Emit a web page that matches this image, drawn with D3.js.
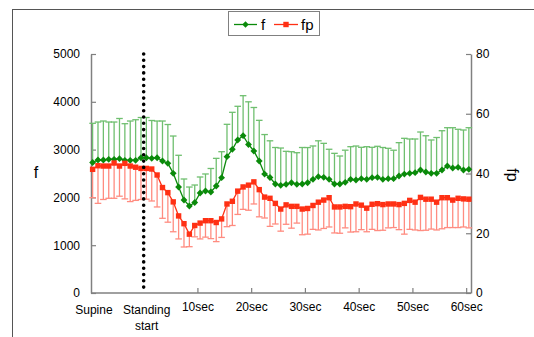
<!DOCTYPE html>
<html><head><meta charset="utf-8">
<script src="https://cdn.jsdelivr.net/npm/d3@7"></script>
<style>body{margin:0;background:#fff} text{font-family:Arial,"Liberation Sans",sans-serif;fill:#000}</style>
</head><body><svg id="c" width="534" height="337"></svg>
<script>
// 10 supine samples followed by standing seconds 0..60
const supineLabels = ["S1","S2","S3","S4","S5","S6","S7","S8","S9","S10"];
const standingSeconds = d3.range(0, 61);
const categories = supineLabels.concat(standingSeconds.map(s => s + "sec"));

const fMean = [2730,2782,2782,2797,2797,2810,2776,2776,2776,2830,
  2830,2818,2830,2761,2713,2504,2218,1946,1820,1893,
  2092,2134,2113,2238,2412,2851,3006,3201,3291,3107,
  2971,2761,2489,2416,2280,2253,2274,2307,2274,2280,
  2307,2379,2433,2420,2379,2280,2280,2316,2379,2364,
  2391,2379,2412,2420,2379,2391,2391,2448,2489,2504,
  2517,2573,2531,2504,2504,2573,2657,2615,2630,2573,2588];
const fSD = [820,795,816,780,780,841,766,822,849,841,
  841,791,768,837,812,780,663,439,397,366,
  335,356,492,579,544,678,774,705,837,893,
  910,851,826,768,764,780,690,649,661,764,
  736,697,751,711,628,642,586,672,682,711,
  657,682,636,649,665,636,596,697,747,718,
  705,795,759,697,749,822,801,843,795,837,870];
const fpMean = [41.4,42.6,42.5,42.5,43.5,42.5,43.4,42.5,42.1,41.7,
  41.7,41.5,39.5,35.3,33.6,30.5,25.8,23.2,19.7,22.6,
  23.4,24.2,24.2,23.6,24.8,29.8,30.7,34.1,35.5,36.1,
  37.2,34.6,32.1,31.7,30.0,28.1,29.5,29.0,29.0,28.1,
  28.3,29.3,30.4,31.1,31.9,28.8,28.8,29.0,28.9,29.8,
  29.4,28.4,29.7,29.9,29.6,29.8,29.8,29.6,30.0,31.0,
  30.4,32.0,31.4,31.4,30.4,31.9,31.9,31.1,31.7,31.5,31.4];
const fpSD = [9.5,12.6,11.2,10.8,11.8,10.1,11.9,11.9,11.1,10.4,
  10.3,10.7,10.7,10.3,9.9,10.0,7.7,7.8,4.2,3.8,
  5.3,5.5,6.0,6.4,6.2,7.6,8.1,7.8,7.5,8.4,
  7.4,9.1,7.0,9.4,6.9,7.4,6.5,7.3,5.6,8.6,
  8.6,8.0,9.3,9.5,9.8,8.7,8.8,7.2,8.5,9.3,
  8.2,7.9,8.4,9.0,8.6,8.0,7.9,8.4,10.3,9.7,
  9.3,11.1,10.4,10.0,9.3,10.4,10.0,9.2,9.8,9.4,9.6];

const leftTicks = [0,1000,2000,3000,4000,5000];
const rightTicks = [0,20,40,60,80];
const xTickLabels = ["10sec","20sec","30sec","40sec","50sec","60sec"];
const phaseLabels = ["Supine", ["Standing","start"]];
const seriesNames = ["f","fp"];

const svg = d3.select("#c");
const L = 91, R = 471, T = 54, B = 293;
const x = d3.scaleLinear().domain([-0.3, 70.4]).range([L, R]);
const yL = d3.scaleLinear().domain([0,5000]).range([B, T]);
const yR = d3.scaleLinear().domain([0,80]).range([B, T]);
const standIdx = supineLabels.length - 0.5;

const green = "#0a8a0a", greenBar = "#6fbf6f";
const red = "#ff3014", redBar = "#ff8c80";
const axisCol = "#808080";

// outer frame
svg.append("rect").attr("x",12.5).attr("y",9.5).attr("width",600).attr("height",400)
  .attr("fill","none").attr("stroke","#555").attr("stroke-width",1);

// axes
const fmt = d3.format("d");
const gl = svg.append("g").attr("transform",`translate(${L},0)`)
  .call(d3.axisLeft(yL).tickValues(leftTicks).tickFormat(fmt).tickSize(-5).tickSizeOuter(0).tickPadding(11));
const gr = svg.append("g").attr("transform",`translate(${R},0)`)
  .call(d3.axisRight(yR).tickValues(rightTicks).tickFormat(fmt).tickSize(-5).tickSizeOuter(0).tickPadding(5));
const tickIdx = xTickLabels.map((d,i) => standIdx + 10*(i+1));
const gx = svg.append("g").attr("transform",`translate(0,${B})`)
  .call(d3.axisBottom(x).tickValues(tickIdx).tickFormat((d,i)=>xTickLabels[i]).tickSize(-5).tickSizeOuter(0).tickPadding(9));
[gl,gr,gx].forEach(g=>{
  g.select(".domain").attr("stroke",axisCol).attr("stroke-width",1.5);
  g.selectAll(".tick line").attr("stroke",axisCol).attr("stroke-width",1.2);
  g.selectAll("text").attr("font-size",12).attr("fill","#000").style("font-family","Arial, 'Liberation Sans', sans-serif");
});
gx.select(".domain").attr("d",`M${L},0H${R}`);

// phase labels
svg.append("text").attr("x",x(0.25)).attr("y",314).attr("text-anchor","middle").attr("font-size",12).text(phaseLabels[0]);
const st = svg.append("text").attr("x",x(standIdx)+3).attr("y",314).attr("text-anchor","middle").attr("font-size",12);
st.append("tspan").attr("x",x(standIdx)+3).text(phaseLabels[1][0]);
st.append("tspan").attr("x",x(standIdx)+3).attr("dy",16).text(phaseLabels[1][1]);

// axis titles
svg.append("text").attr("x",36).attr("y",178).attr("text-anchor","middle").attr("font-size",16).text(seriesNames[0]);
svg.append("text").attr("transform",`translate(507,175) rotate(90)`).attr("text-anchor","middle").attr("font-size",16).text(seriesNames[1]);

const idx = d3.range(fMean.length);
const cap = 3.3;

// f error bars (upward)
const gfe = svg.append("g").attr("stroke",greenBar).attr("stroke-width",1.3);
idx.forEach(i=>{
  const xi = x(i), y0 = yL(fMean[i]), y1 = yL(fMean[i]+fSD[i]);
  gfe.append("line").attr("x1",xi).attr("x2",xi).attr("y1",y0).attr("y2",y1);
  gfe.append("line").attr("x1",xi-cap).attr("x2",xi+cap).attr("y1",y1).attr("y2",y1);
});
// fp error bars (downward)
const gpe = svg.append("g").attr("stroke",redBar).attr("stroke-width",1.3);
idx.forEach(i=>{
  const xi = x(i), y0 = yR(fpMean[i]), y1 = yR(fpMean[i]-fpSD[i]);
  gpe.append("line").attr("x1",xi).attr("x2",xi).attr("y1",y0).attr("y2",y1);
  gpe.append("line").attr("x1",xi-cap).attr("x2",xi+cap).attr("y1",y1).attr("y2",y1);
});

// lines
svg.append("path").datum(idx).attr("fill","none").attr("stroke",green).attr("stroke-width",1.3)
  .attr("d", d3.line().x(i=>x(i)).y(i=>yL(fMean[i])));
svg.append("path").datum(idx).attr("fill","none").attr("stroke",red).attr("stroke-width",1.3)
  .attr("d", d3.line().x(i=>x(i)).y(i=>yR(fpMean[i])));

const diamond = (cx,cy,r)=>`M${cx},${cy-r}L${cx+r},${cy}L${cx},${cy+r}L${cx-r},${cy}Z`;
svg.append("g").selectAll("path").data(idx).join("path")
  .attr("d", i=>diamond(x(i), yL(fMean[i]), 3.4)).attr("fill",green);
svg.append("g").selectAll("rect").data(idx).join("rect")
  .attr("x", i=>x(i)-2.7).attr("y", i=>yR(fpMean[i])-2.7).attr("width",5.4).attr("height",5.4).attr("fill",red);

// standing start dotted line
svg.append("line").attr("x1",x(standIdx)).attr("x2",x(standIdx)).attr("y1",T).attr("y2",B)
  .attr("stroke","#000").attr("stroke-width",3.6).attr("stroke-linecap","round").attr("stroke-dasharray","0 6.3");

// legend
const lg = svg.append("g");
lg.append("rect").attr("x",228.5).attr("y",11.5).attr("width",91).attr("height",24).attr("fill","#fff").attr("stroke",axisCol).attr("stroke-width",1);
lg.append("line").attr("x1",234).attr("x2",257).attr("y1",24.5).attr("y2",24.5).attr("stroke",green).attr("stroke-width",1.3);
lg.append("path").attr("d",diamond(245.5,24.5,3.2)).attr("fill",green);
lg.append("text").attr("x",261).attr("y",29.5).attr("font-size",15).text(seriesNames[0]);
lg.append("line").attr("x1",274).attr("x2",298).attr("y1",24.5).attr("y2",24.5).attr("stroke",red).attr("stroke-width",1.3);
lg.append("rect").attr("x",283.3).attr("y",21.8).attr("width",5.4).attr("height",5.4).attr("fill",red);
lg.append("text").attr("x",301).attr("y",29.5).attr("font-size",15).text(seriesNames[1]);
</script></body></html>
